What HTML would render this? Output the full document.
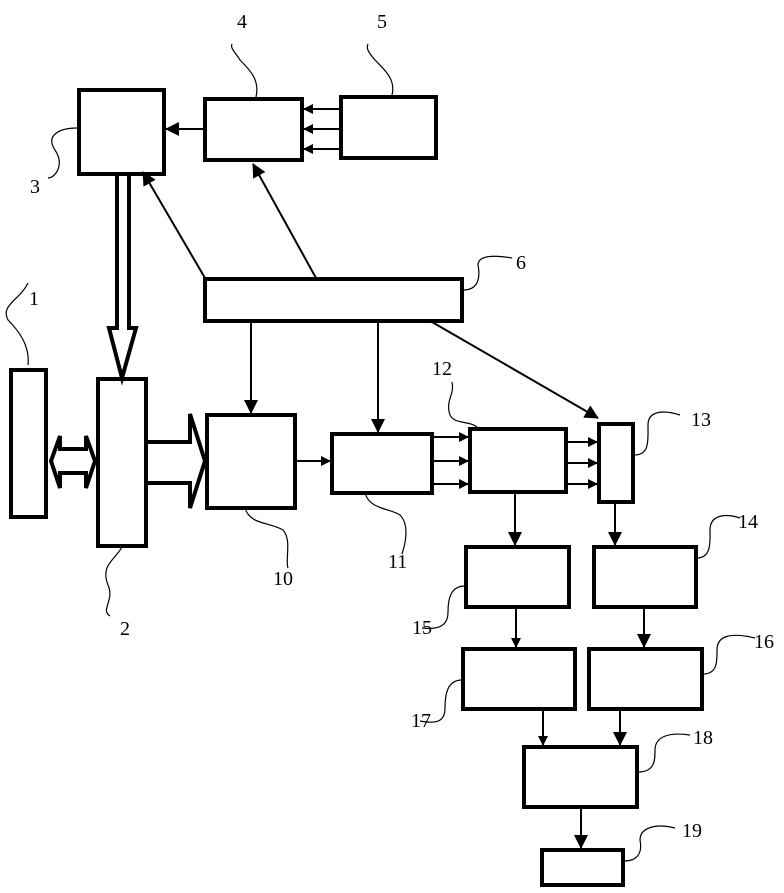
<!DOCTYPE html>
<html><head><meta charset="utf-8"><style>html,body{margin:0;padding:0;background:#fff}</style></head>
<body>
<svg width="784" height="888" viewBox="0 0 784 888" xmlns="http://www.w3.org/2000/svg">
<defs>
<marker id="a" markerWidth="10" markerHeight="10" refX="9" refY="5" orient="auto" markerUnits="userSpaceOnUse"><path d="M0,0 L10,5 L0,10 Z" fill="#000"/></marker>
<marker id="b" markerWidth="14" markerHeight="14" refX="13" refY="7" orient="auto" markerUnits="userSpaceOnUse"><path d="M0,0 L14,7 L0,14 Z" fill="#000"/></marker>
</defs>
<g fill="none" stroke="#000" stroke-width="4">
<rect x="79" y="90" width="85" height="84"/>
<rect x="205" y="99" width="97" height="61"/>
<rect x="341" y="97" width="95" height="61"/>
<rect x="205" y="279" width="257" height="42"/>
<rect x="11" y="370" width="35" height="147"/>
<rect x="98" y="379" width="48" height="167"/>
<rect x="207" y="415" width="88" height="93"/>
<rect x="332" y="434" width="100" height="59"/>
<rect x="470" y="429" width="96" height="63"/>
<rect x="599" y="424" width="34" height="78"/>
<rect x="466" y="547" width="103" height="60"/>
<rect x="594" y="547" width="102" height="60"/>
<rect x="463" y="649" width="112" height="60"/>
<rect x="589" y="649" width="113" height="60"/>
<rect x="524" y="747" width="113" height="60"/>
<rect x="542" y="850" width="81" height="35"/>
</g>
<g stroke="#000" stroke-width="2" fill="none">
<line x1="203" y1="129" x2="166" y2="129" marker-end="url(#b)"/>
<line x1="340" y1="109" x2="304" y2="109" marker-end="url(#a)"/>
<line x1="340" y1="129" x2="304" y2="129" marker-end="url(#a)"/>
<line x1="340" y1="149" x2="304" y2="149" marker-end="url(#a)"/>
<line x1="205" y1="278" x2="143" y2="172" marker-end="url(#b)"/>
<line x1="316" y1="278" x2="253" y2="164" marker-end="url(#b)"/>
<line x1="251" y1="322" x2="251" y2="413" marker-end="url(#b)"/>
<line x1="378" y1="322" x2="378" y2="432" marker-end="url(#b)"/>
<line x1="432" y1="322" x2="598" y2="418" marker-end="url(#b)"/>
<line x1="296" y1="461" x2="330" y2="461" marker-end="url(#a)"/>
<line x1="433" y1="437" x2="468" y2="437" marker-end="url(#a)"/>
<line x1="433" y1="461" x2="468" y2="461" marker-end="url(#a)"/>
<line x1="433" y1="484" x2="468" y2="484" marker-end="url(#a)"/>
<line x1="567" y1="442" x2="597" y2="442" marker-end="url(#a)"/>
<line x1="567" y1="463" x2="597" y2="463" marker-end="url(#a)"/>
<line x1="567" y1="484" x2="597" y2="484" marker-end="url(#a)"/>
<line x1="515" y1="493" x2="515" y2="545" marker-end="url(#b)"/>
<line x1="615" y1="503" x2="615" y2="545" marker-end="url(#b)"/>
<line x1="516" y1="608" x2="516" y2="647" marker-end="url(#a)"/>
<line x1="644" y1="608" x2="644" y2="647" marker-end="url(#b)"/>
<line x1="543" y1="709" x2="543" y2="745" marker-end="url(#a)"/>
<line x1="620" y1="709" x2="620" y2="745" marker-end="url(#b)"/>
<line x1="581" y1="808" x2="581" y2="848" marker-end="url(#b)"/>
</g>
<g stroke="#000" stroke-width="4" fill="none" stroke-linejoin="miter">
<path d="M117,176 L117,328 L109,328 L122,378 L136,328 L129,328 L129,176"/>
<path d="M148,442 L190,442 L190,414 L205,461 L190,508 L190,483 L148,483"/>
<path d="M60,449 L86,449 L86,436 L95,461 L86,488 L86,473 L60,473 L60,488 L51,461 L60,436 Z"/>
</g>
<g stroke="#000" stroke-width="1.2" fill="none">
<path d="M28,365 C30,345 18,330 8,320 C0,305 20,300 28,283"/>
<path d="M122,547 C115,560 100,565 108,585 C115,600 100,610 110,616"/>
<path d="M77,128 C60,128 45,135 55,150 C65,165 55,178 48,178"/>
<path d="M256,97 C260,80 250,70 240,60 C235,52 230,48 232,44"/>
<path d="M392,95 C396,80 385,70 375,60 C368,52 366,48 368,44"/>
<path d="M463,290 C480,290 480,275 478,265 C478,255 495,255 512,258"/>
<path d="M245,508 C250,525 270,522 283,530 C292,540 285,560 288,568"/>
<path d="M365,493 C370,510 390,508 400,515 C410,525 405,545 402,554"/>
<path d="M478,428 C470,420 455,425 450,415 C445,400 455,395 452,382"/>
<path d="M634,455 C650,455 648,440 648,425 C648,410 665,410 680,415"/>
<path d="M697,558 C712,558 710,540 710,530 C710,515 725,513 740,518"/>
<path d="M465,586 C450,586 448,600 448,612 C448,625 440,630 422,628"/>
<path d="M703,674 C718,674 717,660 717,650 C717,636 730,632 755,638"/>
<path d="M462,680 C447,680 445,695 445,708 C445,722 436,724 420,721"/>
<path d="M638,772 C655,772 655,760 655,750 C655,736 670,732 690,735"/>
<path d="M624,861 C640,861 642,850 640,840 C640,828 655,823 675,828"/>
</g>
<g font-family="Liberation Serif, serif" font-size="20" fill="#000">
<text x="29" y="305">1</text>
<text x="120" y="635">2</text>
<text x="30" y="193">3</text>
<text x="237" y="28">4</text>
<text x="377" y="28">5</text>
<text x="516" y="269">6</text>
<text x="273" y="585">10</text>
<text x="388" y="568">11</text>
<text x="432" y="375">12</text>
<text x="691" y="426">13</text>
<text x="738" y="528">14</text>
<text x="412" y="634">15</text>
<text x="754" y="648">16</text>
<text x="411" y="727">17</text>
<text x="693" y="744">18</text>
<text x="682" y="837">19</text>
</g>
</svg>
</body></html>
